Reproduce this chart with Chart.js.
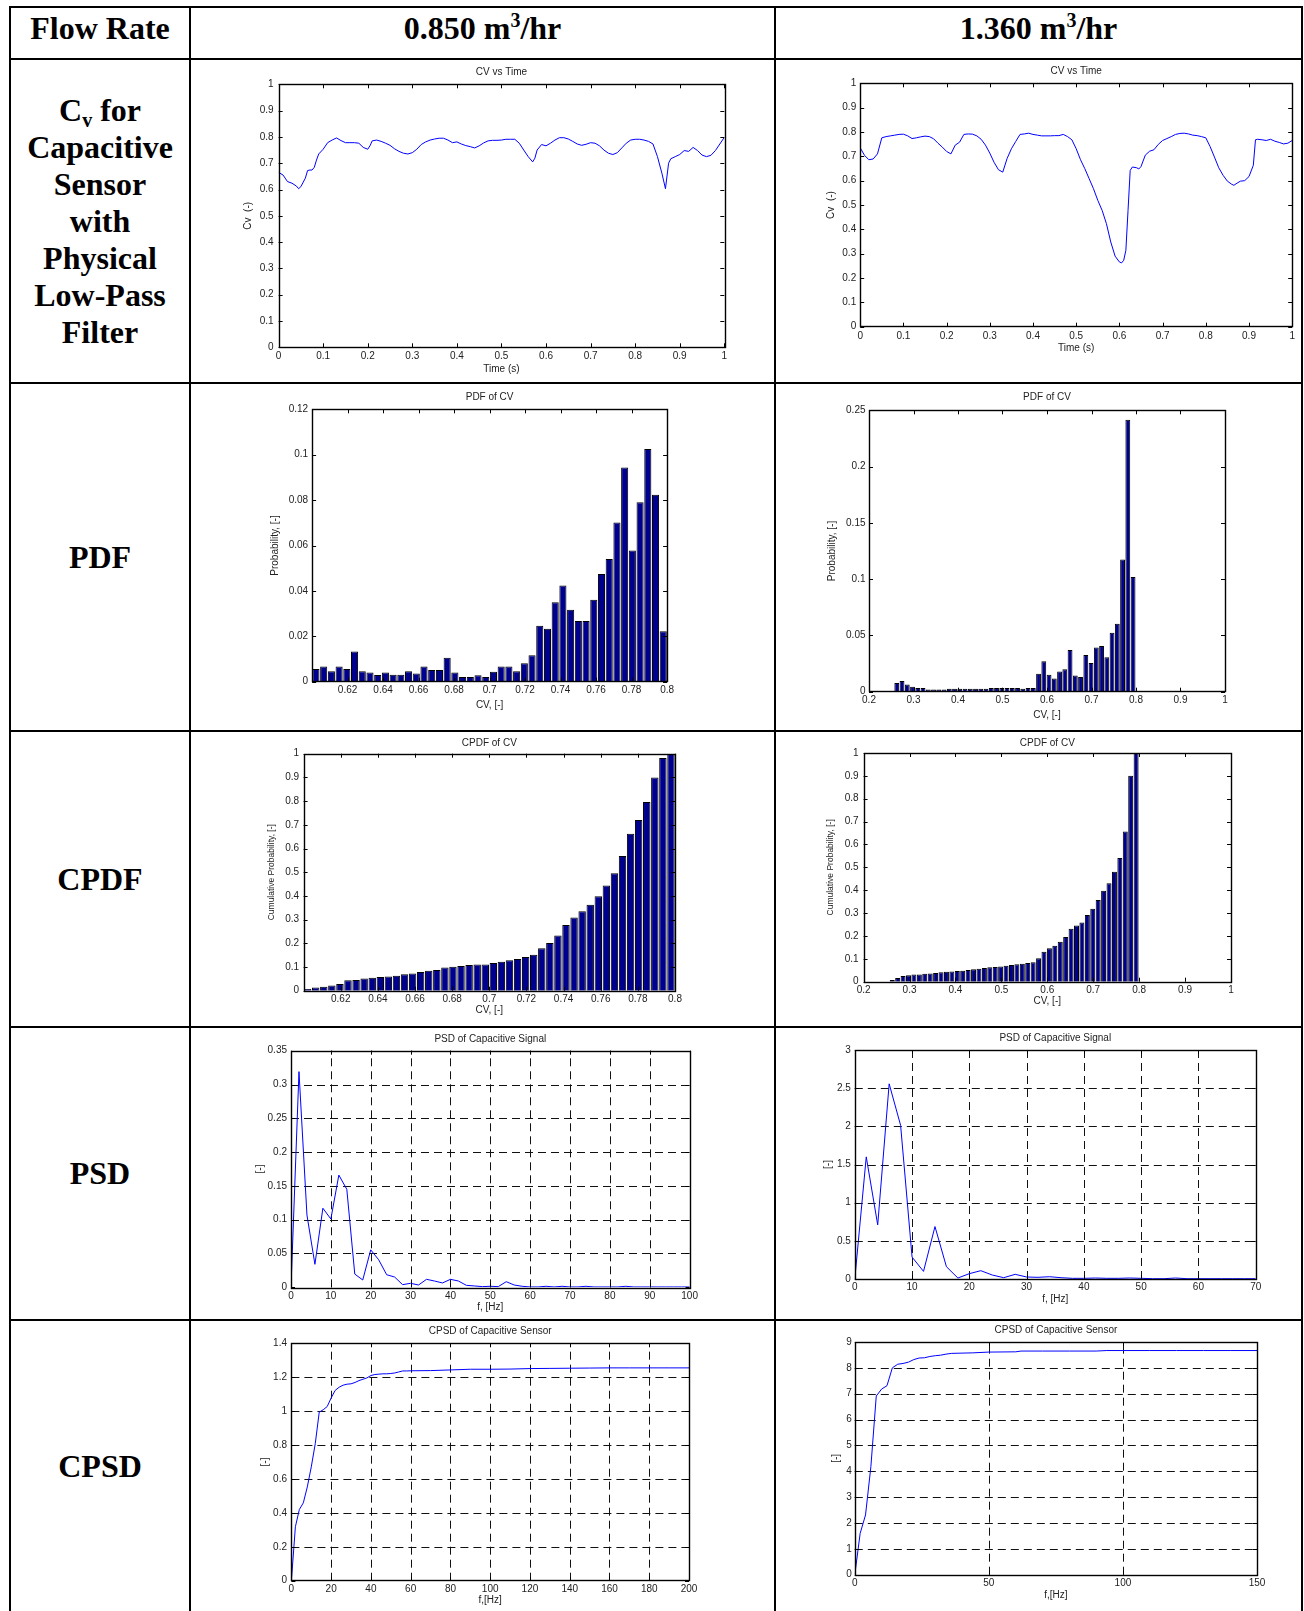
<!DOCTYPE html>
<html>
<head>
<meta charset="utf-8">
<title>Capacitive sensor results</title>
<script src="https://cdn.jsdelivr.net/npm/chart.js@4.4.1/dist/chart.umd.min.js"></script>
<style>
  html, body { margin: 0; padding: 0; background: #fff; }
  #page { position: relative; width: 1304px; height: 1611px; overflow: hidden; }
  .hl { position: absolute; left: 9px; width: 1294px; height: 2px; background: #000; z-index: 2; }
  .vl { position: absolute; top: 6px; bottom: 0; width: 2px; background: #000; z-index: 2; }
  .cell {
    position: absolute; display: flex; align-items: center; justify-content: center;
    text-align: center; font-family: "Liberation Serif", "Times New Roman", serif;
    font-weight: bold; font-size: 32px; line-height: 37px; color: #000;
  }
  .cell sup { font-size: 20px; vertical-align: 12px; line-height: 0; }
  .cell sub { font-size: 20px; vertical-align: -6px; line-height: 0; }
  canvas { position: absolute; }
</style>
</head>
<body>
<div id="page">
  <div class="hl" style="top:6px"></div>
  <div class="hl" style="top:58px"></div>
  <div class="hl" style="top:382px"></div>
  <div class="hl" style="top:730px"></div>
  <div class="hl" style="top:1026px"></div>
  <div class="hl" style="top:1319px"></div>
  <div class="vl" style="left:9px"></div>
  <div class="vl" style="left:189px"></div>
  <div class="vl" style="left:774px"></div>
  <div class="vl" style="left:1301px"></div>

  <div class="cell" style="left:11px;top:6px;width:178px;height:44px"><div>Flow Rate</div></div>
  <div class="cell" style="left:191px;top:6px;width:583px;height:44px"><div>0.850 m<sup>3</sup>/hr</div></div>
  <div class="cell" style="left:776px;top:6px;width:525px;height:44px"><div>1.360 m<sup>3</sup>/hr</div></div>

  <div class="cell" style="left:11px;top:61px;width:178px;height:321px"><div>C<sub>v</sub> for<br>Capacitive<br>Sensor<br>with<br>Physical<br>Low-Pass<br>Filter</div></div>
  <div class="cell" style="left:11px;top:384px;width:178px;height:346px"><div>PDF</div></div>
  <div class="cell" style="left:11px;top:732px;width:178px;height:294px"><div>CPDF</div></div>
  <div class="cell" style="left:11px;top:1028px;width:178px;height:291px"><div>PSD</div></div>
  <div class="cell" style="left:11px;top:1321px;width:178px;height:290px"><div>CPSD</div></div>

  <canvas id="cvLeft"></canvas>
  <canvas id="cvRight"></canvas>
  <canvas id="pdfLeft"></canvas>
  <canvas id="pdfRight"></canvas>
  <canvas id="cpdfLeft"></canvas>
  <canvas id="cpdfRight"></canvas>
  <canvas id="psdLeft"></canvas>
  <canvas id="psdRight"></canvas>
  <canvas id="cpsdLeft"></canvas>
  <canvas id="cpsdRight"></canvas>
</div>

<script>
// ---- datos ----

// Cv vs tiempo, 0.850 m3/hr
const tiempoIzq = [0, 0.01, 0.02, 0.03, 0.04, 0.045, 0.05, 0.06, 0.065, 0.07, 0.075, 0.08, 0.085, 0.09,
  0.1, 0.11, 0.12, 0.13, 0.14, 0.15, 0.16, 0.17, 0.18, 0.19, 0.2, 0.205,
  0.21, 0.22, 0.23, 0.24, 0.25, 0.26, 0.27, 0.28, 0.29, 0.3,
  0.31, 0.32, 0.33, 0.34, 0.35, 0.36, 0.37, 0.38, 0.39, 0.4,
  0.41, 0.42, 0.43, 0.44, 0.45, 0.46, 0.47, 0.48, 0.49, 0.5,
  0.51, 0.52, 0.53, 0.54, 0.55, 0.56, 0.57, 0.575,
  0.58, 0.59, 0.6, 0.61, 0.62, 0.63, 0.64, 0.65, 0.66, 0.67,
  0.68, 0.69, 0.7, 0.71, 0.72, 0.73, 0.74, 0.75, 0.76, 0.77,
  0.78, 0.79, 0.8, 0.81, 0.82, 0.83, 0.84, 0.85, 0.86, 0.868, 0.875,
  0.88, 0.89, 0.9, 0.91, 0.92, 0.93, 0.94, 0.95, 0.96, 0.97, 0.98, 0.99, 1.0];
const cvIzq = [0.665, 0.655, 0.63, 0.624, 0.613, 0.603, 0.611, 0.643, 0.672, 0.674, 0.674, 0.684, 0.712, 0.735,
  0.753, 0.778, 0.788, 0.796, 0.786, 0.778, 0.778, 0.778, 0.776, 0.76, 0.753, 0.766,
  0.785, 0.788, 0.783, 0.776, 0.768, 0.755, 0.745, 0.738, 0.735, 0.74,
  0.753, 0.771, 0.781, 0.788, 0.792, 0.795, 0.795, 0.788, 0.778, 0.781,
  0.773, 0.767, 0.763, 0.758, 0.766, 0.777, 0.785, 0.787, 0.787, 0.788,
  0.791, 0.791, 0.791, 0.776, 0.75, 0.725, 0.705, 0.719,
  0.75, 0.771, 0.766, 0.776, 0.788, 0.797, 0.797, 0.792, 0.783, 0.773,
  0.768, 0.772, 0.778, 0.776, 0.766, 0.75, 0.738, 0.733, 0.74, 0.758,
  0.776, 0.788, 0.791, 0.791, 0.788, 0.783, 0.773, 0.725, 0.662, 0.603, 0.7,
  0.717, 0.725, 0.733, 0.748, 0.745, 0.76, 0.748, 0.731, 0.725, 0.73, 0.748, 0.773, 0.798];

// Cv vs tiempo, 1.360 m3/hr
const tiempoDer = [0, 0.01, 0.02, 0.03, 0.04, 0.05, 0.06, 0.07, 0.08, 0.09,
  0.1, 0.11, 0.12, 0.13, 0.14, 0.15, 0.16, 0.17, 0.18, 0.19,
  0.2, 0.21, 0.22, 0.23, 0.24, 0.25, 0.26, 0.27, 0.28, 0.29,
  0.3, 0.31, 0.32, 0.33, 0.34, 0.35, 0.36, 0.37, 0.38, 0.39,
  0.4, 0.41, 0.42, 0.43, 0.44, 0.45, 0.46, 0.47, 0.48, 0.49,
  0.5, 0.51, 0.52, 0.53, 0.54, 0.55, 0.56, 0.57, 0.58, 0.59,
  0.6, 0.605, 0.61, 0.615, 0.62, 0.625, 0.63, 0.64, 0.645, 0.65,
  0.66, 0.67, 0.68, 0.69, 0.7, 0.71, 0.72, 0.73, 0.74, 0.75,
  0.76, 0.77, 0.78, 0.79, 0.8, 0.81, 0.82, 0.83, 0.84, 0.85,
  0.86, 0.865, 0.87, 0.88, 0.89, 0.9, 0.91, 0.915, 0.92, 0.93,
  0.94, 0.95, 0.96, 0.97, 0.98, 0.99, 1.0];
const cvDer = [0.735, 0.704, 0.686, 0.689, 0.71, 0.776, 0.781, 0.784, 0.787, 0.79,
  0.791, 0.784, 0.773, 0.776, 0.78, 0.783, 0.781, 0.772, 0.754, 0.738,
  0.72, 0.71, 0.746, 0.758, 0.79, 0.792, 0.791, 0.784, 0.77, 0.746,
  0.713, 0.675, 0.645, 0.635, 0.691, 0.731, 0.761, 0.79, 0.792, 0.795,
  0.79, 0.787, 0.784, 0.784, 0.784, 0.785, 0.785, 0.79, 0.781, 0.768,
  0.731, 0.686, 0.649, 0.608, 0.567, 0.519, 0.478, 0.423, 0.348, 0.29,
  0.266, 0.262, 0.273, 0.314, 0.478, 0.642, 0.656, 0.653, 0.648, 0.658,
  0.705, 0.721, 0.727, 0.749, 0.765, 0.773, 0.781, 0.79, 0.794, 0.795,
  0.792, 0.787, 0.785, 0.781, 0.776, 0.74, 0.697, 0.653, 0.622, 0.598,
  0.585, 0.581, 0.587, 0.598, 0.6, 0.617, 0.663, 0.768, 0.77, 0.768,
  0.765, 0.77, 0.762, 0.757, 0.751, 0.754, 0.765];

// histogramas (centros de clase)
const clasesIzq = [0.60217, 0.60652, 0.61087, 0.61522, 0.61957, 0.62391, 0.62826, 0.63261, 0.63696, 0.6413,
  0.64565, 0.65, 0.65435, 0.6587, 0.66304, 0.66739, 0.67174, 0.67609, 0.68043, 0.68478,
  0.68913, 0.69348, 0.69783, 0.70217, 0.70652, 0.71087, 0.71522, 0.71957, 0.72391, 0.72826,
  0.73261, 0.73696, 0.7413, 0.74565, 0.75, 0.75435, 0.7587, 0.76304, 0.76739, 0.77174,
  0.77609, 0.78043, 0.78478, 0.78913, 0.79348, 0.79783];
const pdfIzq = [0.0056, 0.0067, 0.0046, 0.0067, 0.0056, 0.0133, 0.0046, 0.0041, 0.003, 0.0041,
  0.0031, 0.0031, 0.0046, 0.0036, 0.0067, 0.0052, 0.0052, 0.0105, 0.0041, 0.0021,
  0.0021, 0.0028, 0.0021, 0.0044, 0.0067, 0.0067, 0.0046, 0.0081, 0.0116, 0.0247,
  0.0233, 0.035, 0.0424, 0.0317, 0.0267, 0.0267, 0.0361, 0.0474, 0.0541, 0.0701,
  0.0944, 0.0578, 0.079, 0.1025, 0.0824, 0.0222];
const cpdfIzq = [0.007, 0.014, 0.017, 0.022, 0.028, 0.044, 0.045, 0.052, 0.055, 0.058,
  0.06, 0.063, 0.069, 0.073, 0.079, 0.084, 0.087, 0.098, 0.101, 0.104,
  0.108, 0.111, 0.111, 0.117, 0.122, 0.128, 0.134, 0.142, 0.152, 0.179,
  0.201, 0.233, 0.277, 0.309, 0.335, 0.363, 0.398, 0.444, 0.496, 0.568,
  0.662, 0.72, 0.796, 0.9, 0.982, 1.0];

const clasesDer = [0.2624, 0.2742, 0.286, 0.2978, 0.3096, 0.3214, 0.3332, 0.345, 0.3568, 0.3686,
  0.3804, 0.3922, 0.404, 0.4158, 0.4276, 0.4394, 0.4512, 0.463, 0.4748, 0.4866,
  0.4984, 0.5102, 0.522, 0.5338, 0.5456, 0.5574, 0.5692, 0.581, 0.5928, 0.6046,
  0.6164, 0.6282, 0.64, 0.6518, 0.6636, 0.6754, 0.6872, 0.699, 0.7108, 0.7226,
  0.7344, 0.7462, 0.758, 0.7698, 0.7816, 0.7934];
const pdfDer = [0.0077, 0.0095, 0.0065, 0.0044, 0.0033, 0.0033, 0.002, 0.002, 0.002, 0.002,
  0.0027, 0.0027, 0.0027, 0.0027, 0.0027, 0.0027, 0.0027, 0.0027, 0.0033, 0.0033,
  0.0033, 0.0033, 0.0033, 0.0033, 0.0027, 0.0033, 0.0033, 0.016, 0.027, 0.015,
  0.0118, 0.018, 0.02, 0.037, 0.0145, 0.013, 0.0325, 0.0254, 0.0393, 0.0405,
  0.0305, 0.0524, 0.0604, 0.1175, 0.2417, 0.1018];
const cpdfDer = [0.007, 0.016, 0.025, 0.028, 0.031, 0.032, 0.035, 0.036, 0.038, 0.041,
  0.044, 0.045, 0.047, 0.048, 0.051, 0.054, 0.057, 0.06, 0.063, 0.064,
  0.067, 0.07, 0.073, 0.076, 0.079, 0.082, 0.085, 0.103, 0.131, 0.146,
  0.157, 0.175, 0.195, 0.232, 0.246, 0.259, 0.292, 0.319, 0.357, 0.398,
  0.43, 0.481, 0.541, 0.657, 0.901, 1.0];

// PSD
const frecPsdIzq = [0, 2, 4, 6, 8, 10, 12, 14, 16, 18, 20, 22, 24, 26, 28, 30, 32, 34, 36, 38,
  40, 42, 44, 46, 48, 50, 52, 54, 56, 58, 60, 62, 64, 66, 68, 70, 72, 74, 76, 78,
  80, 82, 84, 86, 88, 90, 92, 94, 96, 98, 100];
const psdIzq = [0, 0.319, 0.107, 0.034, 0.117, 0.101, 0.166, 0.145, 0.0196, 0.0108,
  0.0554, 0.0407, 0.0186, 0.0152, 0.0039, 0.0059, 0.0034, 0.0118, 0.0093, 0.0064,
  0.0118, 0.0093, 0.0029, 0.002, 0.001, 0.0015, 0.001, 0.0083, 0.0034, 0.0015,
  0.0005, 0.0005, 0.0015, 0.0005, 0.0015, 0.0005, 0.0005, 0.0015, 0.0005, 0.0005,
  0.0005, 0.0005, 0.0015, 0.0005, 0.0005, 0.0005, 0.0005, 0.0005, 0.0005, 0.0005, 0.0005];
const frecPsdDer = [0, 2, 4, 6, 8, 10, 12, 14, 16, 18, 20, 22, 24, 26, 28, 30, 32, 34, 36, 38,
  40, 42, 44, 46, 48, 50, 52, 54, 56, 58, 60, 62, 64, 66, 68, 70];
const psdDer = [0, 1.6, 0.709, 2.557, 2.013, 0.287, 0.1, 0.687, 0.161, 0.013,
  0.07, 0.109, 0.052, 0.017, 0.061, 0.026, 0.022, 0.03, 0.017, 0.009,
  0.009, 0.013, 0.009, 0.009, 0.013, 0.009, 0.004, 0.004, 0.013, 0.004,
  0.004, 0.004, 0.004, 0.004, 0.004, 0.004];

// CPSD
const frecCpsdIzq = [0, 2, 4, 6, 8, 10, 12, 14, 16, 18, 20, 22, 24, 26, 28, 30, 32, 34, 36, 38,
  40, 42, 44, 46, 48, 50, 52, 54, 56, 58, 60, 70, 80, 90, 100, 110, 120, 130, 140, 150,
  160, 170, 180, 190, 200];
const cpsdIzq = [0, 0.318, 0.42, 0.459, 0.553, 0.671, 0.808, 0.994, 1.008, 1.027,
  1.078, 1.122, 1.141, 1.153, 1.159, 1.161, 1.169, 1.18, 1.188, 1.196,
  1.21, 1.216, 1.218, 1.22, 1.22, 1.222, 1.225, 1.231, 1.237, 1.237,
  1.238, 1.239, 1.243, 1.247, 1.247, 1.248, 1.251, 1.252, 1.253, 1.254,
  1.255, 1.255, 1.255, 1.255, 1.255];
const frecCpsdDer = [0, 2, 4, 6, 8, 10, 12, 14, 16, 18, 20, 22, 24, 26, 28, 30, 32, 34, 36,
  40, 44, 50, 60, 62, 70, 80, 90, 94, 100, 110, 120, 130, 140, 150];
const cpsdDer = [0, 1.6, 2.31, 4.18, 6.91, 7.18, 7.31, 8.0, 8.14, 8.17,
  8.22, 8.32, 8.38, 8.39, 8.44, 8.47, 8.49, 8.53, 8.56,
  8.57, 8.58, 8.61, 8.62, 8.65, 8.65, 8.65, 8.65, 8.67, 8.67, 8.67, 8.67, 8.67, 8.67, 8.67];

// ticks de los ejes
const ticksCv = [0, 0.1, 0.2, 0.3, 0.4, 0.5, 0.6, 0.7, 0.8, 0.9, 1];
const ticksXPdfIzq = [0.62, 0.64, 0.66, 0.68, 0.7, 0.72, 0.74, 0.76, 0.78, 0.8];
const ticksYPdfIzq = [0, 0.02, 0.04, 0.06, 0.08, 0.1, 0.12];
const ticksXPdfDer = [0.2, 0.3, 0.4, 0.5, 0.6, 0.7, 0.8, 0.9, 1];
const ticksYPdfDer = [0, 0.05, 0.1, 0.15, 0.2, 0.25];
const ticksXPsdIzq = [0, 10, 20, 30, 40, 50, 60, 70, 80, 90, 100];
const ticksYPsdIzq = [0, 0.05, 0.1, 0.15, 0.2, 0.25, 0.3, 0.35];
const ticksXPsdDer = [0, 10, 20, 30, 40, 50, 60, 70];
const ticksYPsdDer = [0, 0.5, 1, 1.5, 2, 2.5, 3];
const ticksXCpsdIzq = [0, 20, 40, 60, 80, 100, 120, 140, 160, 180, 200];
const ticksYCpsdIzq = [0, 0.2, 0.4, 0.6, 0.8, 1, 1.2, 1.4];
const ticksXCpsdDer = [0, 50, 100, 150];
const ticksYCpsdDer = [0, 1, 2, 3, 4, 5, 6, 7, 8, 9];

// ---- estilo ----
const FUENTE = '"Liberation Sans", Arial, Helvetica, sans-serif';
const TEXTO = '#222';
const TAM_TICK = 10;
Chart.defaults.font.family = FUENTE;

// posiciones en la pagina: lienzo (cx, cy, w, h) y area del grafico (L, T, R, B)
const cajas = {
  cvLeft:    { cx: 191, cy: 60, w: 583, h: 322, L: 278.6, T: 84.3, R: 724.3, B: 347.3, titleY: 72, xPad: 3, xTitleY: 369, yTitleX: 248, yPad: 5 },
  cvRight:   { cx: 776, cy: 60, w: 525, h: 322, L: 860.2, T: 83.3, R: 1292.2, B: 326.7, titleY: 71.7, xPad: 4, xTitleY: 348, yTitleX: 830.8, yPad: 4 },
  pdfLeft:   { cx: 191, cy: 384, w: 583, h: 346, L: 312.1, T: 409.3, R: 667.1, B: 681.7, titleY: 397.7, xPad: 3, xTitleY: 705.7, yTitleX: 275.7, yPad: 4 },
  pdfRight:  { cx: 776, cy: 384, w: 525, h: 346, L: 869, T: 410.3, R: 1225, B: 691.7, titleY: 397.7, xPad: 3, xTitleY: 715, yTitleX: 832.5, yPad: 3.5 },
  cpdfLeft:  { cx: 191, cy: 732, w: 583, h: 294, L: 303.6, T: 753.7, R: 675, B: 990.7, titleY: 743, xPad: 2.5, xTitleY: 1010.7, yTitleX: 271.4, yPad: 4.5 },
  cpdfRight: { cx: 776, cy: 732, w: 525, h: 294, L: 863.6, T: 753, R: 1231, B: 981.7, titleY: 743, xPad: 2.5, xTitleY: 1001, yTitleX: 830.8, yPad: 5 },
  psdLeft:   { cx: 191, cy: 1028, w: 583, h: 291, L: 291, T: 1050.7, R: 689.6, B: 1287.3, titleY: 1039.7, xPad: 2.5, xTitleY: 1307.3, yTitleX: 260.4, yPad: 4 },
  psdRight:  { cx: 776, cy: 1028, w: 525, h: 291, L: 854.8, T: 1050, R: 1255.7, B: 1279, titleY: 1038.7, xPad: 2.5, xTitleY: 1299.7, yTitleX: 828, yPad: 4 },
  cpsdLeft:  { cx: 191, cy: 1321, w: 583, h: 290, L: 291.4, T: 1343.3, R: 689, B: 1580.7, titleY: 1331.7, xPad: 2.5, xTitleY: 1600.7, yTitleX: 265.7, yPad: 4.4 },
  cpsdRight: { cx: 776, cy: 1321, w: 525, h: 290, L: 854.8, T: 1342, R: 1257, B: 1574.7, titleY: 1330.7, xPad: 2.5, xTitleY: 1595, yTitleX: 836.2, yPad: 3 }
};

// marco tipo MATLAB: caja, ticks hacia adentro y rejilla punteada opcional
const marcoMatlab = {
  id: 'marcoMatlab',
  beforeDatasetsDraw(chart, args, opts) {
    if (!opts.rejilla) return;
    const { ctx, chartArea: a, scales: { x, y } } = chart;
    ctx.save();
    ctx.strokeStyle = '#111';
    ctx.lineWidth = 1;
    ctx.setLineDash([8, 5]);
    x.ticks.forEach(t => {
      const px = Math.round(x.getPixelForValue(t.value)) + 0.5;
      if (px <= a.left + 2 || px >= a.right - 2) return;
      ctx.beginPath(); ctx.moveTo(px, a.bottom); ctx.lineTo(px, a.top); ctx.stroke();
    });
    y.ticks.forEach(t => {
      const py = Math.round(y.getPixelForValue(t.value)) + 0.5;
      if (py <= a.top + 2 || py >= a.bottom - 2) return;
      ctx.beginPath(); ctx.moveTo(a.left, py); ctx.lineTo(a.right, py); ctx.stroke();
    });
    ctx.restore();
  },
  afterDatasetsDraw(chart) {
    const { ctx, chartArea: a, scales: { x, y } } = chart;
    ctx.save();
    ctx.strokeStyle = '#000';
    ctx.lineWidth = 1;
    ctx.beginPath();
    x.ticks.forEach(t => {
      const px = Math.round(x.getPixelForValue(t.value)) + 0.5;
      ctx.moveTo(px, a.bottom); ctx.lineTo(px, a.bottom - 4);
      ctx.moveTo(px, a.top); ctx.lineTo(px, a.top + 4);
    });
    y.ticks.forEach(t => {
      const py = Math.round(y.getPixelForValue(t.value)) + 0.5;
      ctx.moveTo(a.left, py); ctx.lineTo(a.left + 4, py);
      ctx.moveTo(a.right, py); ctx.lineTo(a.right - 4, py);
    });
    ctx.stroke();
    ctx.lineWidth = 1.4;
    ctx.strokeRect(Math.round(a.left) + 0.5, Math.round(a.top) + 0.5,
      Math.round(a.right - a.left), Math.round(a.bottom - a.top));
    ctx.restore();
  }
};

const formatoTick = v => String(parseFloat(Number(v).toFixed(4)));

function dibujarGrafico(id, cfg) {
  const p = cajas[id];
  const el = document.getElementById(id);
  el.width = p.w; el.height = p.h;
  el.style.left = p.cx + 'px'; el.style.top = p.cy + 'px';

  const L = p.L - p.cx, T = p.T - p.cy, R = p.R - p.cx, B = p.B - p.cy;
  const tamTitulo = 10, altTitulo = tamTitulo * 1.2;
  const tamY = cfg.tamTituloY || 10, altY = tamY * 1.2;
  const padTituloArriba = (p.titleY - p.cy) - altTitulo / 2;

  return new Chart(el, {
    type: cfg.tipo,
    data: { datasets: cfg.datasets },
    options: {
      responsive: false,
      animation: false,
      events: [],
      layout: { padding: { left: 0, top: 0, right: p.w - R, bottom: 0 } },
      plugins: {
        legend: { display: false },
        tooltip: { enabled: false },
        title: {
          display: true, text: cfg.titulo, fullSize: false, color: TEXTO,
          font: { size: tamTitulo, weight: 'normal' },
          padding: { top: padTituloArriba, bottom: T - padTituloArriba - altTitulo }
        },
        marcoMatlab: { rejilla: !!cfg.rejilla }
      },
      scales: {
        x: {
          type: 'linear', min: cfg.xMin, max: cfg.xMax, offset: false, bounds: 'data',
          grid: { display: false, drawTicks: false, tickLength: 0 }, border: { display: false },
          afterBuildTicks: s => { s.ticks = cfg.ticksX.map(v => ({ value: v })); },
          afterFit: s => { s.height = p.h - B; },
          ticks: { font: { size: TAM_TICK }, color: TEXTO, padding: p.xPad, maxRotation: 0, autoSkip: false, callback: formatoTick },
          title: {
            display: true, text: cfg.tituloX, color: TEXTO, font: { size: 10 },
            padding: { top: 0, bottom: (p.cy + p.h - p.xTitleY) - altTitulo / 2 }
          }
        },
        y: {
          type: 'linear', min: 0, max: cfg.yMax, bounds: 'data',
          grid: { display: false, drawTicks: false, tickLength: 0 }, border: { display: false },
          afterBuildTicks: s => { s.ticks = cfg.ticksY.map(v => ({ value: v })); },
          afterFit: s => { s.width = L; },
          ticks: { font: { size: TAM_TICK }, color: TEXTO, padding: p.yPad, autoSkip: false, callback: formatoTick },
          title: {
            display: true, text: cfg.tituloY, color: TEXTO, font: { size: tamY },
            padding: { top: (p.yTitleX - p.cx) - altY / 2, bottom: 0 }
          }
        }
      }
    },
    plugins: [marcoMatlab]
  });
}

function serieLinea(xs, ys) {
  return [{
    data: xs.map((v, i) => ({ x: v, y: ys[i] })),
    borderColor: '#0000ff', borderWidth: 1, pointRadius: 0, tension: 0, fill: false
  }];
}

function serieBarras(xs, ys) {
  return [{
    data: xs.map((v, i) => ({ x: v, y: ys[i] })),
    backgroundColor: '#00008f', borderColor: '#000', borderWidth: 1,
    barPercentage: 0.92, categoryPercentage: 1.0, grouped: false
  }];
}

dibujarGrafico('cvLeft', {
  tipo: 'line', titulo: 'CV vs Time', tituloX: 'Time (s)', tituloY: 'Cv  (-)',
  xMin: 0, xMax: 1, yMax: 1, ticksX: ticksCv, ticksY: ticksCv,
  datasets: serieLinea(tiempoIzq, cvIzq)
});
dibujarGrafico('cvRight', {
  tipo: 'line', titulo: 'CV vs Time', tituloX: 'Time (s)', tituloY: 'Cv  (-)',
  xMin: 0, xMax: 1, yMax: 1, ticksX: ticksCv, ticksY: ticksCv,
  datasets: serieLinea(tiempoDer, cvDer)
});
dibujarGrafico('pdfLeft', {
  tipo: 'bar', titulo: 'PDF of CV', tituloX: 'CV, [-]', tituloY: 'Probability, [-]',
  xMin: 0.6, xMax: 0.8, yMax: 0.12, ticksX: ticksXPdfIzq, ticksY: ticksYPdfIzq,
  datasets: serieBarras(clasesIzq, pdfIzq)
});
dibujarGrafico('pdfRight', {
  tipo: 'bar', titulo: 'PDF of CV', tituloX: 'CV, [-]', tituloY: 'Probability, [-]',
  xMin: 0.2, xMax: 1, yMax: 0.25, ticksX: ticksXPdfDer, ticksY: ticksYPdfDer,
  datasets: serieBarras(clasesDer, pdfDer)
});
dibujarGrafico('cpdfLeft', {
  tipo: 'bar', titulo: 'CPDF of CV', tituloX: 'CV, [-]', tituloY: 'Cumulative Probability, [-]', tamTituloY: 8.5,
  xMin: 0.6, xMax: 0.8, yMax: 1, ticksX: ticksXPdfIzq, ticksY: ticksCv,
  datasets: serieBarras(clasesIzq, cpdfIzq)
});
dibujarGrafico('cpdfRight', {
  tipo: 'bar', titulo: 'CPDF of CV', tituloX: 'CV, [-]', tituloY: 'Cumulative Probability, [-]', tamTituloY: 8.5,
  xMin: 0.2, xMax: 1, yMax: 1, ticksX: ticksXPdfDer, ticksY: ticksCv,
  datasets: serieBarras(clasesDer, cpdfDer)
});
dibujarGrafico('psdLeft', {
  tipo: 'line', titulo: 'PSD of Capacitive Signal', tituloX: 'f, [Hz]', tituloY: '[-]', rejilla: true,
  xMin: 0, xMax: 100, yMax: 0.35, ticksX: ticksXPsdIzq, ticksY: ticksYPsdIzq,
  datasets: serieLinea(frecPsdIzq, psdIzq)
});
dibujarGrafico('psdRight', {
  tipo: 'line', titulo: 'PSD of Capacitive Signal', tituloX: 'f, [Hz]', tituloY: '[-]', rejilla: true,
  xMin: 0, xMax: 70, yMax: 3, ticksX: ticksXPsdDer, ticksY: ticksYPsdDer,
  datasets: serieLinea(frecPsdDer, psdDer)
});
dibujarGrafico('cpsdLeft', {
  tipo: 'line', titulo: 'CPSD of Capacitive Sensor', tituloX: 'f,[Hz]', tituloY: '[-]', rejilla: true,
  xMin: 0, xMax: 200, yMax: 1.4, ticksX: ticksXCpsdIzq, ticksY: ticksYCpsdIzq,
  datasets: serieLinea(frecCpsdIzq, cpsdIzq)
});
dibujarGrafico('cpsdRight', {
  tipo: 'line', titulo: 'CPSD of Capacitive Sensor', tituloX: 'f,[Hz]', tituloY: '[-]', rejilla: true,
  xMin: 0, xMax: 150, yMax: 9, ticksX: ticksXCpsdDer, ticksY: ticksYCpsdDer,
  datasets: serieLinea(frecCpsdDer, cpsdDer)
});
</script>
</body>
</html>
